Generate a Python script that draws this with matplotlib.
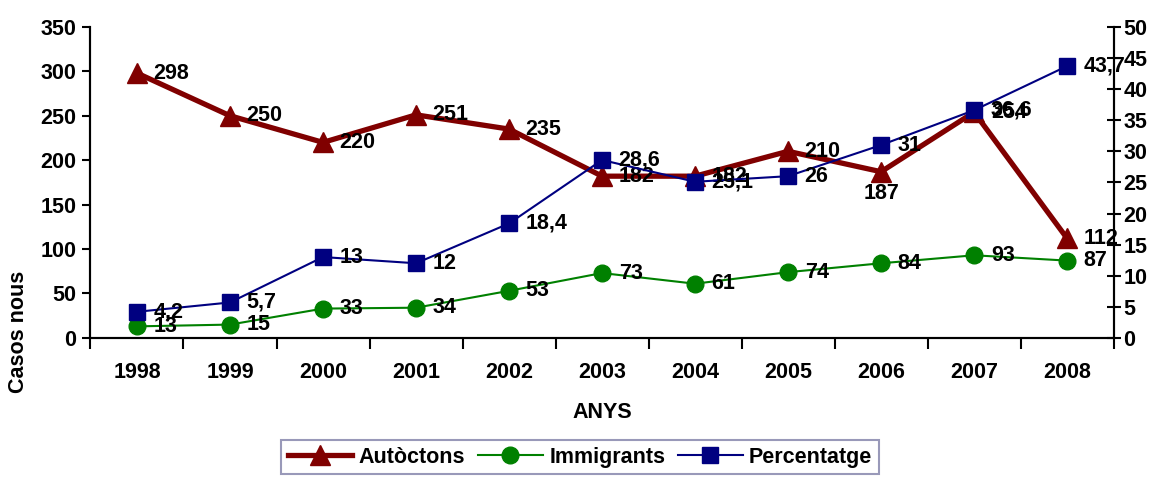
import matplotlib.pyplot as plt
import numpy as np

years = ["1998", "1999", "2000", "2001", "2002", "2003", "2004", "2005", "2006", "2007", "2008"]
autoctons = [298, 250, 220, 251, 235, 182, 182, 210, 187, 254, 112]
immigrants = [13, 15, 33, 34, 53, 73, 61, 74, 84, 93, 87]
percentatge = [4.2, 5.7, 13, 12, 18.4, 28.6, 25.1, 26, 31, 36.6, 43.7]

plt.rcParams["font.family"] = ["Liberation Sans", "DejaVu Sans"]
plt.rcParams["font.weight"] = "bold"

fig = plt.figure(figsize=(11.6, 4.8), dpi=100)
ax = fig.add_axes([0.078, 0.296, 0.882, 0.648])
ax2 = ax.twinx()

x = np.arange(len(years))

l1, = ax.plot(x, autoctons, color="#800000", linewidth=3.8, marker="^",
              markersize=14, label="Autòctons", zorder=3)
l2, = ax.plot(x, immigrants, color="#008000", linewidth=1.5, marker="o",
              markersize=12, label="Immigrants", zorder=3)
l3, = ax2.plot(x, percentatge, color="#000080", linewidth=1.5, marker="s",
               markersize=12, label="Percentatge", zorder=3)

lab = dict(fontsize=15.5, fontweight="bold", color="black")
for i, v in enumerate(autoctons):
    if i == 8:
        ax.annotate(str(v), (x[i], v), xytext=(0, -16), textcoords="offset points",
                    ha="center", va="center", **lab)
    else:
        ax.annotate(str(v), (x[i], v), xytext=(12, 0), textcoords="offset points",
                    ha="left", va="center", **lab)
for i, v in enumerate(immigrants):
    ax.annotate(str(v), (x[i], v), xytext=(12, 0), textcoords="offset points",
                ha="left", va="center", **lab)
for i, v in enumerate(percentatge):
    s = ("%g" % v).replace(".", ",")
    ax2.annotate(s, (x[i], v), xytext=(12, 0), textcoords="offset points",
                 ha="left", va="center", **lab)

ax.set_xlim(-0.5, len(years) - 0.5)
ax.set_ylim(0, 350)
ax2.set_ylim(0, 50)
ax.set_yticks(np.arange(0, 351, 50))
ax2.set_yticks(np.arange(0, 51, 5))

ax.set_xticks(x)
ax.set_xticklabels(years)
ax.set_xticks(np.arange(-0.5, len(years), 1), minor=True)
ax.tick_params(axis="x", which="major", length=0, pad=17, labelsize=15.5)
ax.tick_params(axis="x", which="minor", length=8, width=1.5, direction="out")
ax.tick_params(axis="y", length=6, width=1.5, direction="out", labelsize=15.5, pad=4)
ax2.tick_params(axis="y", length=10, width=1.5, direction="inout", labelsize=15.5, pad=2)

for a in (ax, ax2):
    a.spines["top"].set_visible(False)
    for s in ("left", "right", "bottom"):
        a.spines[s].set_linewidth(1.5)

ax.set_xlabel("ANYS", fontsize=15.5, fontweight="bold", labelpad=14)
ax.set_ylabel("Casos nous", fontsize=15.5, fontweight="bold")
ax.yaxis.set_label_coords(-0.06, 0.02)

leg = fig.legend(handles=[l1, l2, l3], loc="upper center", bbox_to_anchor=(0.5, 0.083),
                 ncol=3, fontsize=15.5, frameon=True, fancybox=False,
                 handlelength=3, handletextpad=0.3, columnspacing=0.6,
                 borderpad=0.3, borderaxespad=0)
leg.get_frame().set_edgecolor("#8080a8")
leg.get_frame().set_linewidth(1.5)

fig.savefig("out.png", dpi=100)
